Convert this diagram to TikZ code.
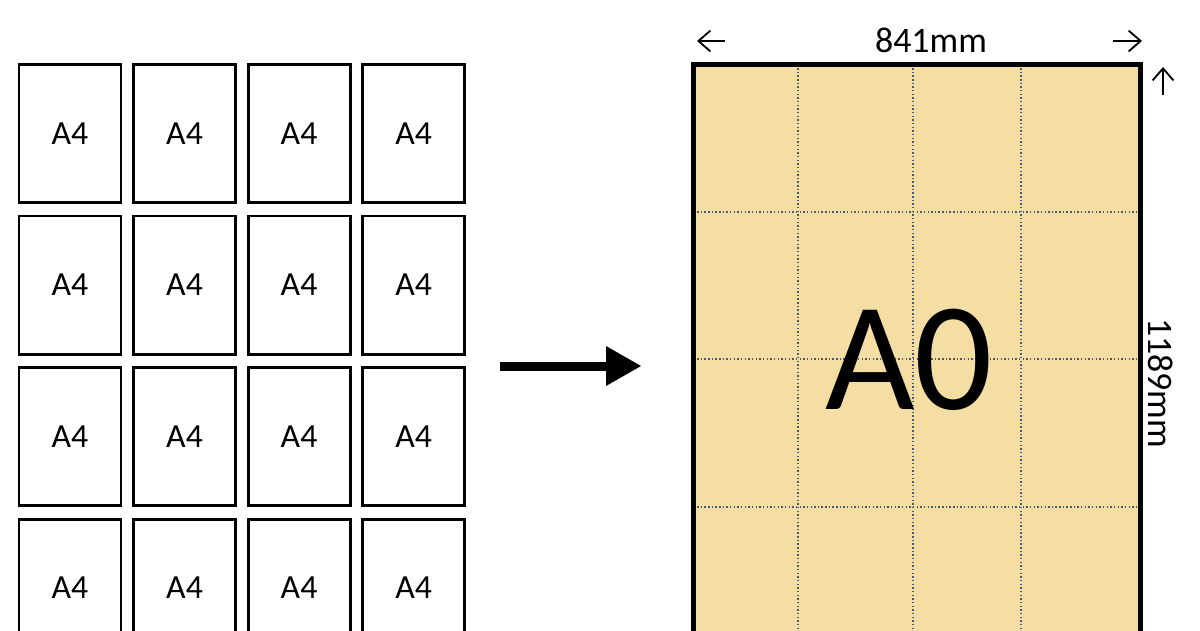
\documentclass[tikz,border=0pt]{standalone}
\usepackage{fontspec}
\setmainfont{Carlito}
\usetikzlibrary{positioning,arrows.meta}
\definecolor{sheetfill}{HTML}{F4DEA4}
\definecolor{foldline}{HTML}{4A5A70}

\begin{document}
\begin{tikzpicture}
        [ x = .025cm, y = -.025cm
        , node distance = .3375cm and .3125cm
        , sheet/.style =
          { draw, line width = 2.1pt, outer sep = 0pt, inner sep = 0pt
          , minimum width = 2.55cm, minimum height = 3.45cm
          , font = \fontsize{24}{28}\selectfont }
        , fold/.style =
          { foldline, line width = 1pt, dash pattern = on 1pt off 1.6pt }
        , dim/.style =
          { line width = 1.3pt, -{Straight Barb[length=.3cm, width=.52cm]} }
        , dimtext/.style =
          { font = \fontsize{25.5}{30}\selectfont }
        , push/.style =
          { line width = 6.4pt, -{Triangle[length=.875cm, width=1cm, line width=0pt]} }
        ]
        \useasboundingbox (0,0) rectangle (1200,630);
        \clip (0,0) rectangle (1200,630);

        % sixteen A4 sheets
        \node [sheet] (a11) at (70,133.5) {A4};
        \node [sheet] (a12) [right=of a11] {A4};
        \node [sheet] (a13) [right=of a12] {A4};
        \node [sheet] (a14) [right=of a13] {A4};
        \node [sheet] (a21) [below=of a11] {A4};
        \node [sheet] (a22) [right=of a21] {A4};
        \node [sheet] (a23) [right=of a22] {A4};
        \node [sheet] (a24) [right=of a23] {A4};
        \node [sheet] (a31) [below=of a21] {A4};
        \node [sheet] (a32) [right=of a31] {A4};
        \node [sheet] (a33) [right=of a32] {A4};
        \node [sheet] (a34) [right=of a33] {A4};
        \node [sheet] (a41) [below=of a31] {A4};
        \node [sheet] (a42) [right=of a41] {A4};
        \node [sheet] (a43) [right=of a42] {A4};
        \node [sheet] (a44) [right=of a43] {A4};

        \coordinate (tail) at (500,366);
        \coordinate (head) at (641,366);
        \draw [push] (tail) -- (head);

        % the A0 sheet
        \fill [sheetfill] (693.5,64.5) rectangle (1140.5,700);
        \draw [fold] (798,64.5) -- (798,700);
        \draw [fold] (913,64.5) -- (913,700);
        \draw [fold] (1021,64.5) -- (1021,700);
        \draw [fold] (693.5,212) -- (1140.5,212);
        \draw [fold] (693.5,359) -- (1140.5,359);
        \draw [fold] (693.5,507) -- (1140.5,507);
        \draw [line width = 3.6pt] (693.5,64.5) rectangle (1140.5,700);
        \node (a0) at (909,360) {\fontsize{110}{120}\selectfont A0};

        % dimensions
        \node [dimtext] (width) at (931,40) {841mm};
        \node [dimtext, rotate=-90] (height) at (1161,383) {1189mm};
        \coordinate (lstart) at (725,41);
        \coordinate (lend) at (697,41);
        \coordinate (rstart) at (1113,41);
        \coordinate (rend) at (1142,41);
        \coordinate (ustart) at (1163,95);
        \coordinate (uend) at (1163,67);
        \draw [dim] (lstart) -- (lend);
        \draw [dim] (rstart) -- (rend);
        \draw [dim] (ustart) -- (uend);
      \end{tikzpicture}
\end{document}
